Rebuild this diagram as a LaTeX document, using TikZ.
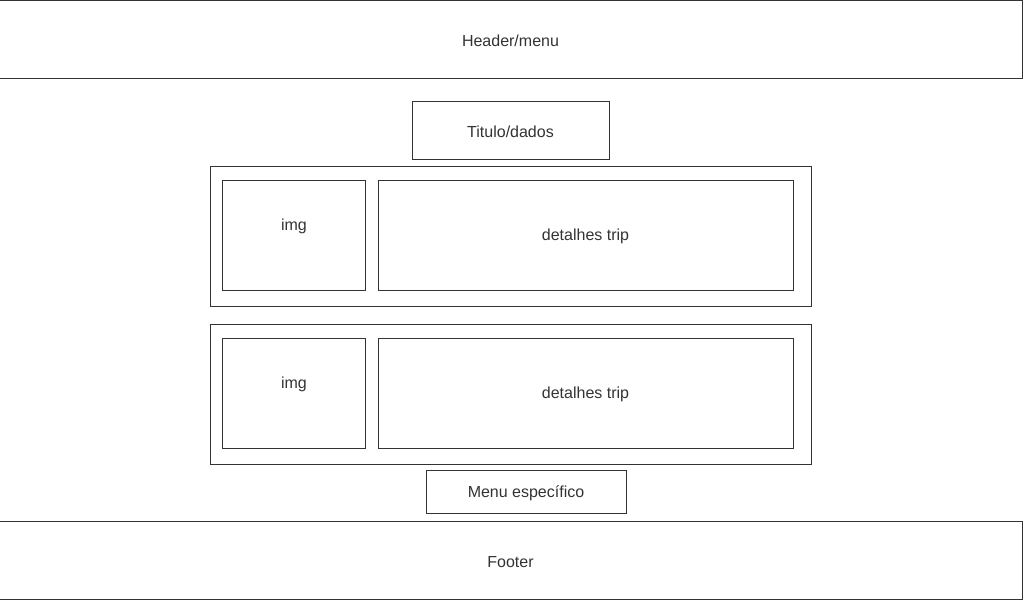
\documentclass[tikz,border=0pt]{standalone}
\usepackage{fontspec}
\setmainfont{Liberation Sans}
\definecolor{txt}{HTML}{333333}
\begin{document}
\begin{tikzpicture}[x=1pt,y=-1pt,
  box/.style={draw=black!80,line width=0.8pt},
  lbl/.style={text=txt,font=\fontsize{16}{19}\selectfont,inner sep=0pt,yshift=-1.5pt}]
\useasboundingbox (0,0) rectangle (1024,600);
\draw[box] (-1,0.5) rectangle (1022,78) node[midway,lbl] (header) {Header/menu};
\draw[box] (412,101) rectangle (609,159) node[midway,lbl] (titulo) {Titulo/dados};
\draw[box] (210,166) rectangle (811,306);
\draw[box] (222,180) rectangle (365,290);
\node[lbl] (img1) at (294,225) {img};
\draw[box] (378,180) rectangle (793,290) node[midway,lbl] (det1) {detalhes trip};
\draw[box] (210,324) rectangle (811,464);
\draw[box] (222,338) rectangle (365,448);
\node[lbl] (img2) at (294,383) {img};
\draw[box] (378,338) rectangle (793,448) node[midway,lbl] (det2) {detalhes trip};
\draw[box] (426,470) rectangle (626,513) node[midway,lbl] (menu) {Menu específico};
\draw[box] (-1,521) rectangle (1022,599.5) node[midway,lbl] (footer) {Footer};
\end{tikzpicture}
\end{document}
